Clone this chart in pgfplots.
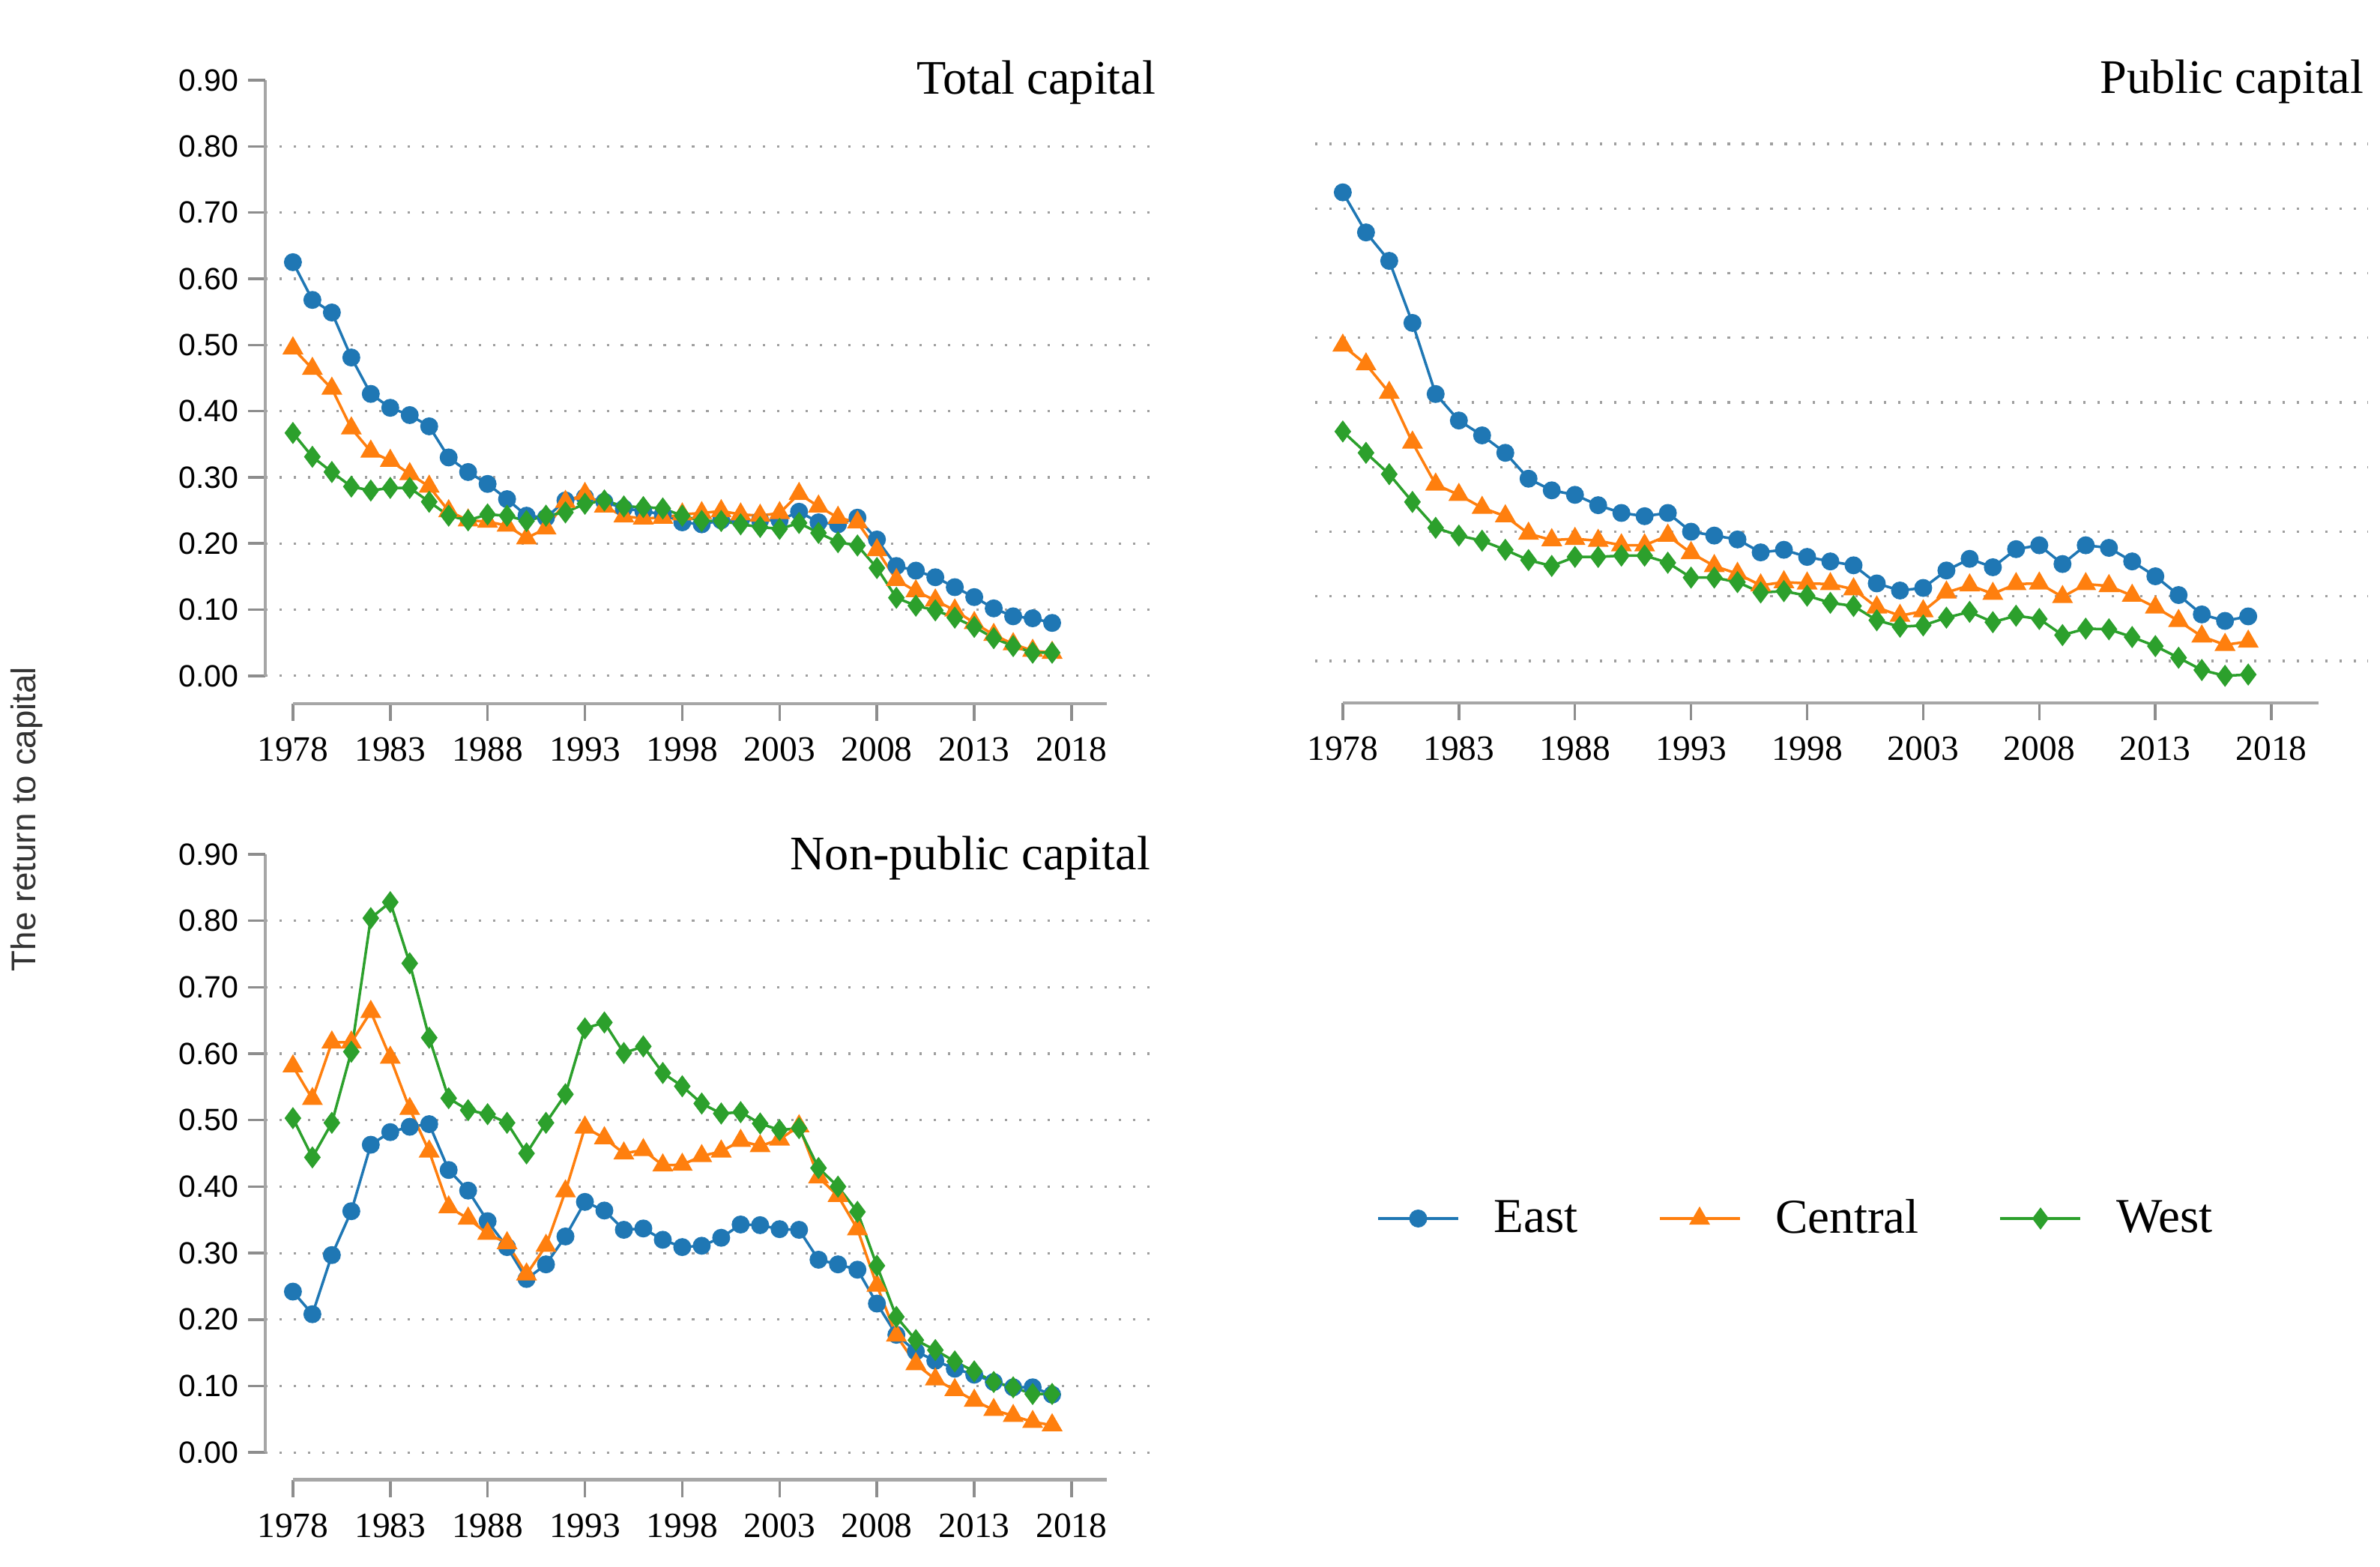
\documentclass[border=0pt]{standalone}
\usepackage{fontspec}
\setmainfont{Liberation Serif}
\setsansfont{Liberation Sans}
\usepackage{pgfplots}
\usepackage{pgfplotstable}
\pgfplotsset{compat=1.18}

\definecolor{cEast}{HTML}{1F77B4}
\definecolor{cCentral}{HTML}{FF7F0E}
\definecolor{cWest}{HTML}{2CA02C}
\definecolor{axisgray}{HTML}{A6A6A6}

% year, East, Central, West
\pgfplotstableread{
year east central west
1978 0.625 0.495 0.367
1979 0.568 0.464 0.331
1980 0.549 0.434 0.308
1981 0.481 0.374 0.286
1982 0.426 0.339 0.280
1983 0.405 0.325 0.284
1984 0.394 0.305 0.284
1985 0.377 0.286 0.263
1986 0.330 0.249 0.242
1987 0.308 0.235 0.235
1988 0.290 0.233 0.244
1989 0.267 0.227 0.242
1990 0.242 0.208 0.234
1991 0.239 0.223 0.242
1992 0.265 0.263 0.247
1993 0.270 0.275 0.260
1994 0.263 0.256 0.265
1995 0.253 0.241 0.256
1996 0.249 0.238 0.255
1997 0.244 0.239 0.253
1998 0.232 0.244 0.242
1999 0.229 0.246 0.234
2000 0.235 0.249 0.234
2001 0.235 0.244 0.229
2002 0.235 0.242 0.225
2003 0.235 0.246 0.222
2004 0.248 0.275 0.231
2005 0.232 0.256 0.216
2006 0.229 0.239 0.202
2007 0.239 0.232 0.197
2008 0.206 0.190 0.163
2009 0.166 0.145 0.118
2010 0.159 0.128 0.106
2011 0.149 0.114 0.099
2012 0.134 0.099 0.088
2013 0.119 0.080 0.074
2014 0.102 0.062 0.057
2015 0.090 0.048 0.045
2016 0.087 0.038 0.035
2017 0.080 0.035 0.035
}\total

\pgfplotstableread{
year east central west
1978 0.725 0.488 0.355
1979 0.663 0.459 0.322
1980 0.619 0.415 0.289
1981 0.523 0.338 0.246
1982 0.413 0.273 0.206
1983 0.372 0.257 0.194
1984 0.349 0.237 0.186
1985 0.322 0.224 0.172
1986 0.282 0.197 0.156
1987 0.264 0.187 0.147
1988 0.257 0.189 0.161
1989 0.241 0.186 0.161
1990 0.229 0.179 0.163
1991 0.224 0.179 0.163
1992 0.229 0.194 0.152
1993 0.200 0.167 0.129
1994 0.194 0.147 0.129
1995 0.188 0.135 0.122
1996 0.168 0.117 0.106
1997 0.172 0.122 0.108
1998 0.161 0.120 0.101
1999 0.154 0.119 0.090
2000 0.148 0.111 0.085
2001 0.120 0.083 0.063
2002 0.109 0.070 0.053
2003 0.113 0.077 0.055
2004 0.140 0.106 0.067
2005 0.158 0.117 0.076
2006 0.145 0.104 0.060
2007 0.173 0.119 0.070
2008 0.179 0.120 0.065
2009 0.150 0.099 0.040
2010 0.179 0.119 0.050
2011 0.175 0.116 0.049
2012 0.154 0.101 0.037
2013 0.131 0.083 0.023
2014 0.102 0.062 0.005
2015 0.072 0.038 -0.014
2016 0.062 0.025 -0.023
2017 0.069 0.030 -0.021
}\public

\pgfplotstableread{
year east central west
1978 0.242 0.581 0.503
1979 0.208 0.532 0.444
1980 0.297 0.617 0.496
1981 0.363 0.617 0.603
1982 0.463 0.663 0.804
1983 0.482 0.594 0.828
1984 0.490 0.517 0.736
1985 0.494 0.453 0.624
1986 0.425 0.369 0.533
1987 0.394 0.352 0.515
1988 0.348 0.329 0.509
1989 0.309 0.315 0.496
1990 0.261 0.268 0.450
1991 0.283 0.311 0.496
1992 0.325 0.393 0.539
1993 0.377 0.489 0.638
1994 0.364 0.473 0.647
1995 0.335 0.450 0.601
1996 0.337 0.455 0.611
1997 0.320 0.432 0.571
1998 0.309 0.433 0.551
1999 0.311 0.446 0.525
2000 0.323 0.453 0.510
2001 0.343 0.469 0.512
2002 0.342 0.461 0.495
2003 0.336 0.471 0.485
2004 0.335 0.491 0.488
2005 0.290 0.414 0.428
2006 0.283 0.386 0.400
2007 0.275 0.336 0.362
2008 0.224 0.251 0.281
2009 0.177 0.176 0.204
2010 0.152 0.133 0.169
2011 0.138 0.110 0.154
2012 0.126 0.094 0.137
2013 0.117 0.078 0.122
2014 0.106 0.064 0.106
2015 0.098 0.055 0.098
2016 0.098 0.046 0.088
2017 0.087 0.041 0.088
}\nonpublic

\tikzset{ttl/.style={anchor=base east, inner sep=0pt, font=\fontsize{18.3}{20}\selectfont}}

\pgfplotsset{
  east/.style={color=cEast, line width=1pt, mark=*, mark size=2.9pt},
  central/.style={color=cCentral, line width=1pt, mark=triangle*, mark size=3.6pt},
  west/.style={color=cWest, line width=1pt, mark=diamond*, mark size=3.4pt},
  panel/.style={
    scale only axis,
    anchor=south west,
    clip=false,
    axis x line*=bottom,
    axis y line*=left,
    axis line style={-, draw=axisgray, line width=1.3pt},
    tick align=outside,
    major tick length=0.23cm,
    tick style={draw=axisgray!85!black, line width=1pt},
    xtick={1978,1983,...,2018},
    x tick label style={font=\fontsize{13.5}{14}\selectfont, yshift=-0.1cm,
      /pgf/number format/1000 sep={}, /pgf/number format/assume math mode=true},
    ytick={0,0.1,0.2,0.3,0.4,0.5,0.6,0.7,0.8},
    ymajorgrids,
    major grid style={draw=gray!75, line width=0.9pt, dash pattern=on 0.9pt off 4.5pt},
    y tick label style={font=\sffamily\fontsize{11.7}{12}\selectfont,
      /pgf/number format/.cd, fixed, fixed zerofill, precision=2, assume math mode=true},
  },
}

\begin{document}
\begin{tikzpicture}
\useasboundingbox (0,0) rectangle (31.76cm,20.90cm);

\node[rotate=90, font=\sffamily\fontsize{13}{14}\selectfont, text=black!80] at (0.36cm,9.97cm) {The return to capital};

% Total capital
\begin{axis}[panel,
  at={(3.54cm,11.51cm)}, width=11.90cm, height=8.32cm,
  xmin=1976.58, xmax=2022.39, ymin=-0.042, ymax=0.9,
  extra y ticks={0.9}, extra y tick style={grid=none},
  x axis line style={shorten <=0.37cm, shorten >=0.67cm},
  y axis line style={shorten <=0.37cm},
]
\addplot[east] table[x=year, y=east] {\total};
\addplot[central] table[x=year, y=central] {\total};
\addplot[west] table[x=year, y=west] {\total};
\node[ttl] at (axis description cs:0.999,0.978) {Total capital};
\end{axis}

% Public capital
\begin{axis}[panel,
  at={(17.55cm,11.52cm)}, width=14.05cm, height=7.46cm,
  xmin=1976.81, xmax=2022.16, ymin=-0.0649, ymax=0.8,
  yticklabels={},
  y tick style={draw=none},
  x axis line style={shorten <=0.37cm, shorten >=0.66cm},
  y axis line style={draw=none},
]
\addplot[east] table[x=year, y=east] {\public};
\addplot[central] table[x=year, y=central] {\public};
\addplot[west] table[x=year, y=west] {\public};
\node[ttl] at (axis description cs:0.9964,1.091) {Public capital};
\end{axis}

% Non-public capital
\begin{axis}[panel,
  at={(3.54cm,1.155cm)}, width=11.90cm, height=8.345cm,
  xmin=1976.58, xmax=2022.39, ymin=-0.041, ymax=0.9,
  extra y ticks={0.9}, extra y tick style={grid=none},
  x axis line style={shorten <=0.37cm, shorten >=0.67cm},
  y axis line style={shorten <=0.365cm},
  legend columns=3,
  legend style={at={(axis description cs:1.718,0.4176)}, anchor=center,
    draw=none, fill=none, font=\fontsize{18.5}{20}\selectfont,
    /tikz/every odd column/.append style={column sep=0.39cm},
    /tikz/every even column/.append style={column sep=1.0cm}},
  legend image code/.code={\draw[mark repeat=2, mark phase=2]
    plot coordinates {(0cm,0cm) (0.535cm,0cm) (1.07cm,0cm)};},
]
\addplot[east] table[x=year, y=east] {\nonpublic};
\addlegendentry{East}
\addplot[central] table[x=year, y=central] {\nonpublic};
\addlegendentry{Central}
\addplot[west] table[x=year, y=west] {\nonpublic};
\addlegendentry{West}
\node[ttl] at (axis description cs:0.993,0.976) {Non-public capital};
\end{axis}
\end{tikzpicture}
\end{document}
